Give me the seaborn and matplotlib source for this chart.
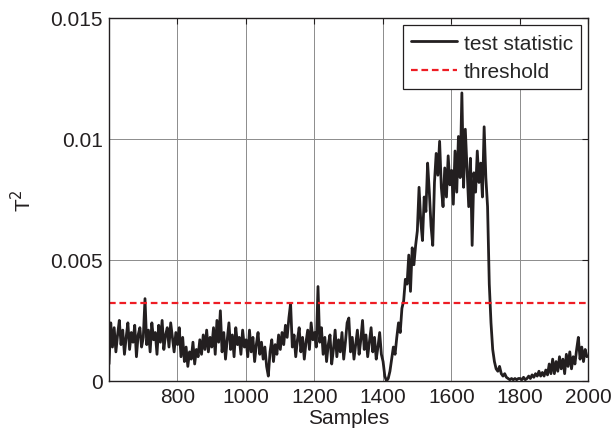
import numpy as np
import pandas as pd
import matplotlib
matplotlib.use("Agg")
import matplotlib.pyplot as plt
import seaborn as sns

# ---- data (T^2 values in units of 1e-4, one value every 5 samples) ----
samples = list(range(601, 2001, 5))
t2_e4 = [
    # 601-696
    7, 24, 14, 22, 12, 19, 25, 15, 21, 11, 18, 24, 13, 20, 16, 23, 10, 19, 22, 14,
    # 701-796
    18, 34, 15, 21, 12, 24, 17, 20, 11, 23, 16, 25, 13, 19, 22, 14, 24, 18, 12, 20,
    # 801-896
    15, 22, 10, 18, 8, 14, 6, 12, 9, 16, 7, 13, 10, 17, 11, 19, 13, 21, 12, 18,
    # 901-996
    14, 22, 11, 25, 16, 29, 12, 20, 9, 17, 24, 13, 19, 10, 22, 15, 18, 11, 21, 14,
    # 1001-1096
    17, 10, 21, 12, 18, 8, 15, 20, 11, 16, 9, 14, 6, 2, 12, 17, 8, 15, 11, 19,
    # 1101-1196
    13, 20, 15, 23, 18, 26, 32, 14, 19, 10, 17, 22, 12, 18, 9, 16, 21, 13, 24, 17,
    # 1201-1296
    20, 14, 39, 16, 22, 11, 18, 8, 15, 19, 7, 13, 21, 10, 17, 12, 20, 9, 16, 24,
    # 1301-1396
    26, 12, 18, 9, 15, 21, 11, 17, 25, 13, 19, 10, 16, 22, 12, 18, 9, 14, 20, 11,
    # 1401-1496
    8, 2, 0, 1, 4, 9, 14, 11, 18, 24, 20, 30, 33, 42, 40, 52, 37, 55, 48, 56,
    # 1501-1596
    62, 80, 66, 58, 76, 70, 90, 78, 64, 56, 82, 94, 85, 99, 80, 72, 88, 76, 93, 81,
    # 1601-1696
    87, 73, 95, 78, 101, 84, 119, 80, 104, 88, 72, 92, 56, 86, 78, 95, 82, 90, 76, 105,
    # 1701-1796
    84, 72, 40, 24, 13, 8, 5, 4, 6, 3, 2, 3, 1.5, 1, 0.5, 1, 0.5, 1, 0.5, 1,
    # 1801-1896
    1, 0.5, 1.5, 0.5, 1, 2, 1, 2.5, 1.5, 3, 2, 4, 2, 3.5, 2, 4.5, 2.5, 7, 3, 9,
    # 1901-1996
    3, 8, 4, 10, 5, 9, 3, 11, 6, 12, 5, 10, 7, 13, 18, 9, 14, 8, 13, 10,
]
threshold = 0.0032
x_ticks = [800, 1000, 1200, 1400, 1600, 1800, 2000]
y_ticks = [0, 0.005, 0.01, 0.015]
y_tick_labels = ["0", "0.005", "0.01", "0.015"]

df = pd.DataFrame({"Samples": samples, "T2": np.array(t2_e4) * 1e-4})

sns.set_style("white")
plt.rcParams["font.family"] = ["Liberation Sans", "DejaVu Sans"]
plt.rcParams["xtick.direction"] = "in"
plt.rcParams["ytick.direction"] = "in"

fig = plt.figure(figsize=(6.16, 4.39), dpi=100)
ax = fig.add_axes([0.177, 0.130, 0.778, 0.827])

sns.lineplot(data=df, x="Samples", y="T2", ax=ax, color="#231f20",
             linewidth=2.0, label="test statistic")
ax.axhline(threshold, color="#ee1c24", linestyle=(0, (3.0, 1.7)),
           linewidth=1.6, label="threshold")

ax.set_xlim(601, 2000)
ax.set_ylim(0, 0.015)
ax.set_xticks(x_ticks)
ax.set_xticklabels([str(t) for t in x_ticks])
ax.set_yticks(y_ticks)
ax.set_yticklabels(y_tick_labels)
ax.tick_params(axis="both", labelsize=15, colors="#231f20", length=4,
               width=0.8, top=True, right=True, pad=4.5)
ax.grid(True, color="#8c8c8c", linewidth=0.7)
ax.set_axisbelow(True)
for s in ax.spines.values():
    s.set_color("#231f20")
    s.set_linewidth(1.0)

ax.set_xlabel("Samples", fontsize=15, color="#231f20", labelpad=1)
ax.set_ylabel("T$^2$", fontsize=15, color="#231f20", labelpad=11)

leg = ax.legend(loc="upper right", fontsize=15, frameon=True, fancybox=False,
                framealpha=1, edgecolor="#231f20", borderaxespad=0.35,
                handlelength=2.2, handletextpad=0.3, borderpad=0.4,
                labelspacing=0.45)
leg.get_frame().set_linewidth(0.9)

fig.savefig("out.png", dpi=100)
